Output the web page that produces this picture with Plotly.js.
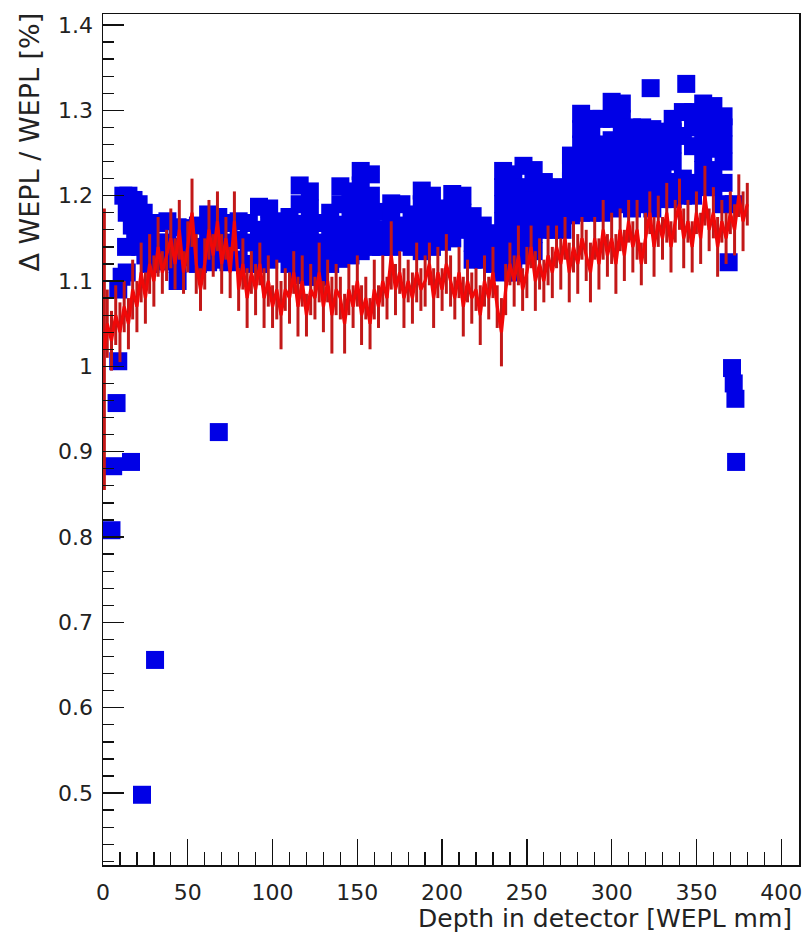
<!DOCTYPE html>
<html>
<head>
<meta charset="utf-8">
<script src="https://cdn.plot.ly/plotly-3.0.1.min.js"></script>
<style>html,body{margin:0;padding:0;background:#fff;}#chart{width:806px;height:937px;}</style>
</head>
<body>
<div id="chart"></div>
<script>
// ---- Red series: depth (mm), Δ WEPL / WEPL (%), error ----
var redX = [0.8,2.5,5,7.5, 10,12.5,15,17.5, 20,22.5,25,27.5, 30,32.5,35,37.5, 40,42.5,45,47.5,
  50,52.5,55,57.5, 60,62.5,65,67.5, 70,72.5,75,77.5, 80,82.5,85,87.5, 90,92.5,95,97.5,
  100,102.5,105,107.5, 110,112.5,115,117.5, 120,122.5,125,127.5, 130,132.5,135,137.5, 140,142.5,145,147.5,
  150,152.5,155,157.5, 160,162.5,165,167.5, 170,172.5,175,177.5, 180,182.5,185,187.5, 190,192.5,195,197.5,
  200,202.5,205,207.5, 210,212.5,215,217.5, 220,222.5,225,227.5, 230,232.5,235,237.5, 240,242.5,245,247.5,
  250,252.5,255,257.5, 260,262.5,265,267.5, 270,272.5,275,277.5, 280,282.5,285,287.5, 290,292.5,295,297.5,
  300,302.5,305,307.5, 310,312.5,315,317.5, 320,322.5,325,327.5, 330,332.5,335,337.5, 340,342.5,345,347.5,
  350,352.5,355,357.5, 360,362.5,365,367.5, 370,372.5,375,377.5, 380];
var redY = [1.02,1.05,1.03,1.06, 1.04,1.07,1.05,1.09, 1.07,1.11,1.08,1.12, 1.10,1.14,1.11,1.13, 1.15,1.12,1.16,1.11,
  1.14,1.18,1.12,1.09, 1.12,1.16,1.13,1.17, 1.12,1.15,1.11,1.17, 1.09,1.12,1.08,1.11, 1.09,1.12,1.08,1.10,
  1.07,1.09,1.06,1.09, 1.08,1.11,1.07,1.10, 1.06,1.09,1.08,1.11, 1.07,1.10,1.06,1.09, 1.08,1.05,1.09,1.07,
  1.10,1.06,1.08,1.05, 1.09,1.07,1.10,1.08, 1.13,1.09,1.11,1.08, 1.10,1.08,1.11,1.09, 1.10,1.12,1.08,1.11,
  1.09,1.12,1.10,1.08, 1.11,1.07,1.10,1.08, 1.09,1.06,1.10,1.08, 1.11,1.07,1.04,1.09, 1.12,1.10,1.13,1.09,
  1.11,1.14,1.10,1.12, 1.10,1.13,1.11,1.14, 1.12,1.15,1.11,1.14, 1.12,1.15,1.13,1.11, 1.15,1.12,1.16,1.13,
  1.15,1.12,1.16,1.13, 1.17,1.14,1.16,1.12, 1.15,1.18,1.14,1.17, 1.15,1.18,1.14,1.17, 1.19,1.15,1.17,1.14,
  1.18,1.15,1.20,1.16, 1.18,1.14,1.17,1.15, 1.18,1.16,1.20,1.17, 1.19];
var redErr = [0.165,0.04,0.035,0.035, 0.035,0.03,0.03,0.035, 0.03,0.035,0.03,0.035, 0.03,0.035,0.025,0.03, 0.035,0.03,0.035,0.025,
  0.03,0.04,0.035,0.025, 0.03,0.035,0.025,0.035, 0.035,0.025,0.03,0.035, 0.025,0.03,0.035,0.025, 0.03,0.025,0.035,0.03,
  0.025,0.035,0.04,0.025, 0.03,0.025,0.035,0.03, 0.025,0.03,0.025,0.035, 0.03,0.025,0.045,0.03, 0.025,0.035,0.03,0.025,
  0.03,0.035,0.025,0.03, 0.035,0.025,0.03,0.025, 0.04,0.03,0.025,0.035, 0.025,0.03,0.035,0.025, 0.03,0.025,0.035,0.03,
  0.025,0.035,0.03,0.025, 0.03,0.035,0.025,0.03, 0.025,0.035,0.03,0.025, 0.03,0.025,0.04,0.03, 0.025,0.03,0.035,0.025,
  0.03,0.025,0.035,0.03, 0.025,0.035,0.03,0.025, 0.03,0.025,0.035,0.03, 0.035,0.025,0.03,0.035, 0.025,0.03,0.035,0.025,
  0.03,0.035,0.025,0.03, 0.025,0.03,0.035,0.025, 0.03,0.025,0.035,0.03, 0.025,0.035,0.03,0.025, 0.03,0.035,0.025,0.03,
  0.025,0.03,0.035,0.025, 0.03,0.035,0.025,0.03, 0.025,0.03,0.025,0.035, 0.025];

// ---- Blue series: band columns (depth, values) ----
var blueColX = [32,38,44,50,56,62,68,74,80,86,92,98,104,110,116,122,128,134,140,146,152,158,164,170,176,182,
  188,194,200,206,212,218,224,230,236,242,248,254,260,266,271,276,282,288,294,300,306,312,318,324,330,336,342,348,354,360,366];
var blueColY = [
  [1.125,1.145,1.168],[1.123,1.145,1.170],[1.100,1.120,1.140,1.163],[1.128,1.148,1.162],[1.120,1.140,1.165],
  [1.122,1.140,1.160,1.178],[1.125,1.145,1.165,1.175],[1.122,1.145,1.168],[1.125,1.148,1.170],[1.120,1.145,1.168],
  [1.120,1.140,1.160,1.187],[1.125,1.145,1.165,1.185],[1.132,1.152,1.170],[1.120,1.140,1.160,1.175],
  [1.107,1.127,1.147,1.167,1.190,1.212],[1.105,1.125,1.145,1.165,1.185,1.205],[1.105,1.125,1.145,1.168],
  [1.120,1.140,1.160,1.180],[1.126,1.146,1.166,1.190,1.211],[1.130,1.150,1.170,1.190,1.205],
  [1.135,1.155,1.175,1.195,1.212,1.229],[1.140,1.160,1.180,1.200,1.225],[1.140,1.160,1.181],
  [1.140,1.160,1.175,1.191],[1.145,1.165,1.190],[1.140,1.160,1.178],[1.135,1.155,1.175,1.190,1.206],
  [1.140,1.160,1.180,1.200],[1.146,1.166,1.185],[1.150,1.170,1.185,1.202],[1.160,1.180,1.200],
  [1.125,1.145,1.160,1.176],[1.125,1.145,1.165],[1.120,1.138,1.156],
  [1.110,1.130,1.150,1.170,1.190,1.210,1.229],[1.110,1.130,1.150,1.170,1.190,1.210,1.225],
  [1.130,1.150,1.170,1.190,1.210,1.235],[1.135,1.155,1.175,1.195,1.215,1.230],
  [1.160,1.180,1.200,1.216],[1.160,1.180,1.195,1.210],[1.160,1.180,1.200],
  [1.177,1.197,1.217,1.232,1.247],[1.180,1.200,1.220,1.240,1.260,1.278,1.296],
  [1.180,1.200,1.220,1.240,1.260,1.275,1.290],[1.180,1.200,1.220,1.240,1.260,1.290],
  [1.185,1.205,1.225,1.245,1.265,1.290,1.310],[1.190,1.210,1.230,1.250,1.270,1.290,1.308],
  [1.185,1.205,1.225,1.245,1.262,1.280],[1.190,1.210,1.230,1.250,1.265,1.280],
  [1.185,1.205,1.225,1.245,1.262,1.278],[1.196,1.216,1.236,1.256,1.275],
  [1.196,1.216,1.240,1.260,1.275,1.290],[1.200,1.220,1.270,1.298],[1.200,1.215,1.258,1.280,1.298],
  [1.210,1.230,1.250,1.270,1.290,1.308],[1.210,1.230,1.255,1.275,1.290,1.305],
  [1.190,1.215,1.240,1.260,1.280,1.293]
];
// ---- Blue series: individual points (edges and outliers) ----
var blueExtraX = [5,6,8,9,16.5,23,30.7,68.3, 9,11,14,13.6, 12,15,18,21,24, 14,17,19,22,25,27,28, 323,344, 369,371,372,373,373.4,372];
var blueExtraY = [0.808,0.883,0.957,1.006,0.888,0.498,0.656,0.923, 1.09,1.105,1.11,1.14, 1.20,1.20,1.195,1.19,1.18,
  1.18,1.165,1.15,1.14,1.13,1.16,1.12, 1.326,1.331, 1.122,0.998,0.98,0.962,0.888,1.19];

// ---- Axis ticks ----
var xTickVals = [0,50,100,150,200,250,300,350,400];
var xTickText = ['0','50','100','150','200','250','300','350','400'];
var yTickVals = [0.5,0.6,0.7,0.8,0.9,1.0,1.1,1.2,1.3,1.4];
var yTickText = ['0.5','0.6','0.7','0.8','0.9','1','1.1','1.2','1.3','1.4'];
var xTitle = 'Depth in detector [WEPL mm]';
var yTitle = '\u0394 WEPL / WEPL [%]';

var bx = [], by = [];
blueColX.forEach(function (x, i) { blueColY[i].forEach(function (y) { bx.push(x); by.push(y); }); });
blueExtraX.forEach(function (x, i) { bx.push(x); by.push(blueExtraY[i]); });

var FONT = 'DejaVu Sans, Liberation Sans, Arial, sans-serif';
var TXT = '#222222';

var traces = [
  { type: 'scatter', mode: 'markers', x: bx, y: by,
    marker: { symbol: 'square', size: 18, color: '#0000e6', line: { width: 0 } },
    hoverinfo: 'skip', showlegend: false },
  { type: 'scatter', mode: 'lines', x: redX, y: redY,
    line: { color: '#f00808', width: 3.2 },
    error_y: { type: 'data', array: redErr, visible: true, color: '#c21818', thickness: 3, width: 0 },
    hoverinfo: 'skip', showlegend: false }
];

var layout = {
  width: 806, height: 937,
  paper_bgcolor: '#ffffff', plot_bgcolor: '#ffffff',
  margin: { l: 103, r: 7, t: 14, b: 72, pad: 0 },
  showlegend: false,
  font: { family: FONT, color: TXT },
  xaxis: {
    range: [0, 410.5], showgrid: false, zeroline: false,
    showline: true, mirror: true, linecolor: '#111', linewidth: 1.5,
    ticks: 'inside', ticklen: 26, tickwidth: 1.3, tickcolor: '#111',
    tickmode: 'array', tickvals: xTickVals, ticktext: xTickText,
    tickfont: { family: FONT, size: 22, color: TXT },
    ticklabelstandoff: 7,
    minor: { ticks: 'inside', ticklen: 13, tickwidth: 1.3, tickcolor: '#111', tickmode: 'linear', tick0: 0, dtick: 10, showgrid: false }
  },
  yaxis: {
    range: [0.4157, 1.4129], showgrid: false, zeroline: false,
    showline: true, mirror: true, linecolor: '#111', linewidth: 1.5,
    ticks: 'inside', ticklen: 21, tickwidth: 1.3, tickcolor: '#111',
    tickmode: 'array', tickvals: yTickVals, ticktext: yTickText,
    tickfont: { family: FONT, size: 22, color: TXT },
    ticklabelstandoff: 4,
    minor: { ticks: 'inside', ticklen: 11, tickwidth: 1.3, tickcolor: '#111', tickmode: 'linear', tick0: 0, dtick: 0.02, showgrid: false }
  },
  annotations: [
    { text: xTitle, xref: 'paper', yref: 'paper', x: 0.9928, y: -0.0623,
      xanchor: 'right', yanchor: 'middle', showarrow: false,
      font: { family: FONT, size: 25, color: TXT } },
    { text: yTitle, xref: 'paper', yref: 'paper', x: -0.1049, y: 1.0047, textangle: -90,
      xanchor: 'center', yanchor: 'top', showarrow: false,
      font: { family: FONT, size: 27, color: TXT } }
  ]
};

Plotly.newPlot('chart', traces, layout, { displayModeBar: false, staticPlot: true });
</script>
</body>
</html>
